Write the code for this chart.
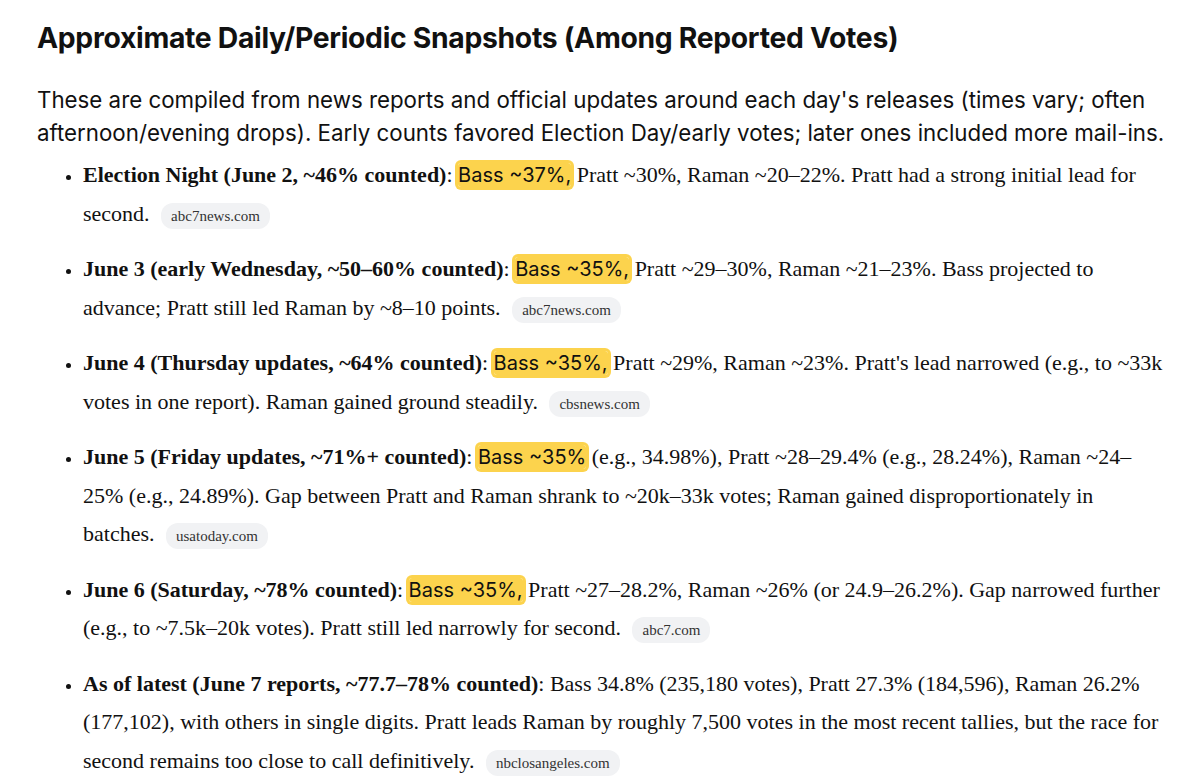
<!DOCTYPE html>
<html><head><meta charset="utf-8">
<script src="https://cdn.jsdelivr.net/npm/chart.js@4"></script>
<style>
html,body{margin:0;padding:0;background:#fff;width:1200px;height:778px;overflow:hidden}
body{color:#111}
h1{font-family:Inter,"Liberation Sans",sans-serif;font-weight:700;font-size:28.3px;margin:0;position:absolute;left:37px;top:21px;letter-spacing:-0.3px}
p.intro{font-family:Inter,"Liberation Sans",sans-serif;font-size:22.3px;line-height:33px;margin:0;position:absolute;left:37px;top:83px;width:1150px}
ul{position:absolute;left:55px;top:156px;margin:0;padding:0 0 0 28px;width:1085px;font-family:"Liberation Serif","Times New Roman",serif;font-size:22px;line-height:38.5px}
li{margin:0 0 15px 0}
li::marker{font-size:18px}
.hl{font-family:Inter,"Liberation Sans",sans-serif;font-size:20px;background:#fcd34d;box-shadow:0 0 0 3px #fcd34d;border-radius:3px}
.pill{font-size:15px;background:#f1f2f4;border-radius:12px;padding:5px 10px;margin-left:6px;color:#333}
</style></head><body>
<h1 id="title"></h1>
<p class="intro" id="intro"></p>
<ul id="list"></ul>
<canvas id="c" width="1" height="1" style="position:absolute;left:-10px;top:-10px"></canvas>
<script>
const title = "Approximate Daily/Periodic Snapshots (Among Reported Votes)";
const intro = "These are compiled from news reports and official updates around each day's releases (times vary; often afternoon/evening drops). Early counts favored Election Day/early votes; later ones included more mail-ins.";
const labels = ["Election Night (June 2, ~46% counted)","June 3 (early Wednesday, ~50–60% counted)","June 4 (Thursday updates, ~64% counted)","June 5 (Friday updates, ~71%+ counted)","June 6 (Saturday, ~78% counted)","As of latest (June 7 reports, ~77.7–78% counted)"];
const highlights = ["Bass ~37%,","Bass ~35%,","Bass ~35%,","Bass ~35%","Bass ~35%,",""];
const rests = [
 " Pratt ~30%, Raman ~20–22%. Pratt had a strong initial lead for second.",
 " Pratt ~29–30%, Raman ~21–23%. Bass projected to advance; Pratt still led Raman by ~8–10 points.",
 " Pratt ~29%, Raman ~23%. Pratt's lead narrowed (e.g., to ~33k votes in one report). Raman gained ground steadily.",
 " (e.g., 34.98%), Pratt ~28–29.4% (e.g., 28.24%), Raman ~24–25% (e.g., 24.89%). Gap between Pratt and Raman shrank to ~20k–33k votes; Raman gained disproportionately in batches.",
 " Pratt ~27–28.2%, Raman ~26% (or 24.9–26.2%). Gap narrowed further (e.g., to ~7.5k–20k votes). Pratt still led narrowly for second.",
 " Bass 34.8% (235,180 votes), Pratt 27.3% (184,596), Raman 26.2% (177,102), with others in single digits. Pratt leads Raman by roughly 7,500 votes in the most recent tallies, but the race for second remains too close to call definitively."];
const sources = ["abc7news.com","abc7news.com","cbsnews.com","usatoday.com","abc7.com","nbclosangeles.com"];
document.getElementById('title').textContent = title;
document.getElementById('intro').textContent = intro;
const ul = document.getElementById('list');
labels.forEach((l,i)=>{
  const li = document.createElement('li');
  const b = document.createElement('b'); b.textContent = l; li.appendChild(b);
  li.appendChild(document.createTextNode(": "));
  if (highlights[i]) { const s=document.createElement('span'); s.className='hl'; s.textContent=highlights[i]; li.appendChild(s); }
  li.appendChild(document.createTextNode(rests[i]+" "));
  const p=document.createElement('span'); p.className='pill'; p.textContent=sources[i]; li.appendChild(p);
  ul.appendChild(li);
});
</script>
</body></html>
